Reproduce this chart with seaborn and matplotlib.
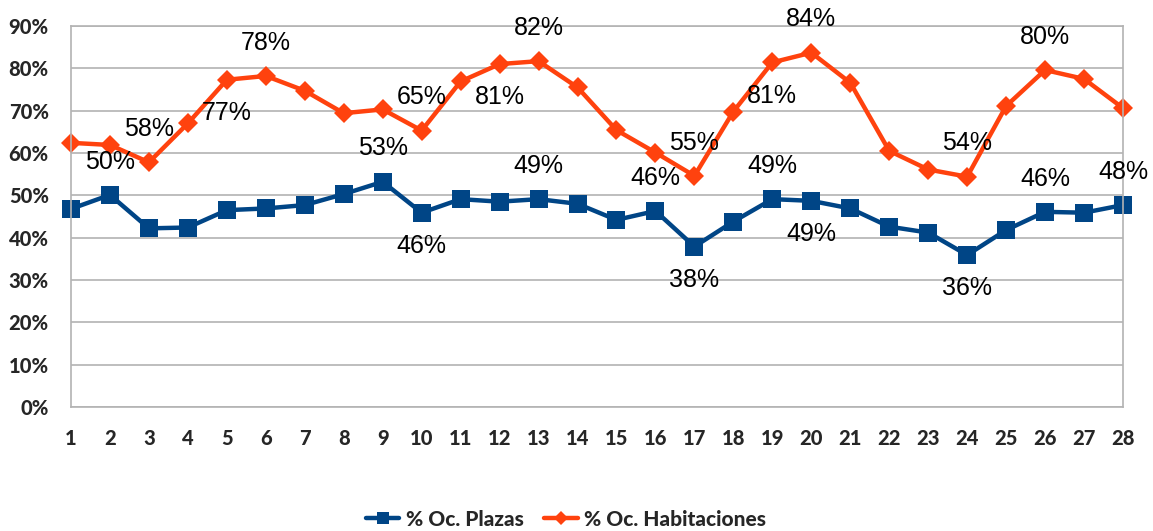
import pandas as pd
import matplotlib
matplotlib.use("Agg")
import matplotlib.pyplot as plt
import seaborn as sns
from matplotlib.ticker import PercentFormatter, MultipleLocator

dias = list(range(1, 29))
plazas = [0.468, 0.501, 0.422, 0.424, 0.465, 0.469, 0.477, 0.503, 0.532, 0.459,
          0.491, 0.485, 0.491, 0.480, 0.442, 0.463, 0.379, 0.438, 0.491, 0.487,
          0.469, 0.426, 0.412, 0.359, 0.418, 0.461, 0.459, 0.477]
habitaciones = [0.624, 0.619, 0.578, 0.670, 0.773, 0.782, 0.747, 0.694, 0.703, 0.653,
                0.769, 0.810, 0.817, 0.755, 0.654, 0.601, 0.546, 0.698, 0.814, 0.837,
                0.766, 0.605, 0.561, 0.544, 0.711, 0.796, 0.775, 0.706]

# dias con etiqueta y si va encima (1) o debajo (-1)
etq_plazas_dias = [2, 9, 10, 13, 16, 17, 19, 20, 24, 26, 28]
etq_plazas_pos = [1, 1, -1, 1, 1, -1, 1, -1, -1, 1, 1]
etq_hab_dias = [3, 5, 6, 10, 12, 13, 17, 19, 20, 24, 26]
etq_hab_pos = [1, -1, 1, 1, -1, 1, 1, -1, 1, 1, 1]

df = pd.DataFrame({"dia": dias, "plazas": plazas, "habitaciones": habitaciones})

azul = "#004586"
naranja = "#ff420e"
gris = "#b3b3b3"

sns.set_style("white")
plt.rcParams["font.family"] = ["Lato", "DejaVu Sans"]

fig = plt.figure(figsize=(11.53, 5.31), dpi=100)
ax = fig.add_axes([71 / 1153, 1 - 407 / 531, (1123 - 71) / 1153, (407 - 26) / 531])

sns.lineplot(data=df, x="dia", y="plazas", ax=ax, color=azul, lw=3.2,
             marker="s", markersize=13, markeredgewidth=0, label="% Oc. Plazas")
sns.lineplot(data=df, x="dia", y="habitaciones", ax=ax, color=naranja, lw=3.2,
             marker="D", markersize=10, markeredgewidth=0, label="% Oc. Habitaciones")

for serie, ds, ps in [(plazas, etq_plazas_dias, etq_plazas_pos),
                      (habitaciones, etq_hab_dias, etq_hab_pos)]:
    for d, p in zip(ds, ps):
        v = serie[d - 1]
        ax.annotate(f"{v * 100:.0f}%", (d, v), xytext=(0, 24 * p), textcoords="offset points",
                    ha="center", va="center", fontsize=18, family="Liberation Sans",
                    color="black")

ax.set_xlim(1, 28)
ax.set_ylim(0, 0.9)
ax.set_xticks(dias)
ax.yaxis.set_major_locator(MultipleLocator(0.1))
ax.yaxis.set_major_formatter(PercentFormatter(1.0, decimals=0))
ax.grid(axis="y", color=gris, lw=1.2)
ax.set_axisbelow(True)
for s in ax.spines.values():
    s.set_color(gris)
    s.set_linewidth(1.2)
ax.tick_params(axis="both", direction="out", length=8, width=1.2, color=gris,
               labelsize=14.5, pad=8)
for t in ax.get_xticklabels() + ax.get_yticklabels():
    t.set_fontweight("black")
ax.set_xlabel("")
ax.set_ylabel("")
for l in ax.lines:
    l.set_clip_on(False)

leg = ax.legend(loc="center", bbox_to_anchor=(566 / 1153, 1 - 519 / 531), bbox_transform=fig.transFigure,
                ncol=2, frameon=False, handlelength=1.6, handletextpad=0.3, columnspacing=1.0,
                markerscale=0.7, prop={"weight": "black", "size": 15})

fig.savefig("out.png", dpi=100)
